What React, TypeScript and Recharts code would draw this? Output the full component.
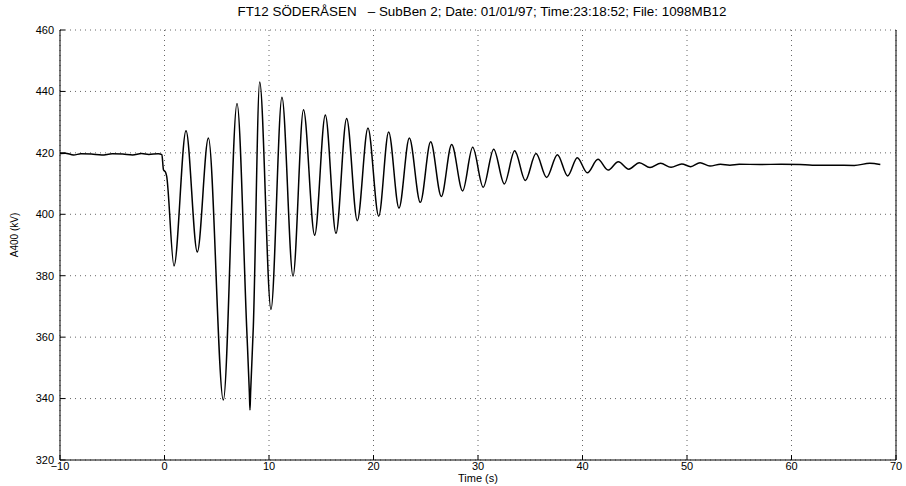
import { LineChart, Line, XAxis, YAxis, CartesianGrid } from 'recharts'

// Recorded 400 kV bus voltage, time in seconds relative to the disturbance
const TIME_S = [
  -10, -9.5, -8.7, -8, -7, -6, -5, -4, -3.05, -2.2, -1.5, -0.6, -0.25,
  -0.1, 0.1, 0.2,
  0.91, 2.06, 3.14, 4.2, 5.63, 6.94, 7.86, 8.12, 8.18, 8.24, 8.5, 9.11,
  10.19, 11.24, 12.3, 13.3, 14.37, 15.39, 16.41, 17.43, 18.45, 19.47,
  20.5, 21.45, 22.44, 23.43, 24.48, 25.47, 26.49, 27.48, 28.53, 29.49,
  30.5, 31.5, 32.52, 33.51, 34.53, 35.55, 36.57, 37.6, 38.58, 39.5,
  40.46, 41.48, 42.44, 43.43, 44.43, 45.44, 46.46, 47.48, 48.47, 49.5,
  50.35, 51.25, 52.2, 53.2, 54.1, 55, 57, 59, 60.8, 62, 64, 66, 67.5, 68.5,
]

const A400_KV = [
  419.8, 419.9, 419.3, 419.7, 419.6, 419.3, 419.7, 419.6, 419.3, 419.8, 419.5, 419.7, 419.4,
  414.5, 413.7, 412.5,
  383.2, 427.2, 387.7, 424.8, 339.5, 436.1, 363.4, 342, 336.3, 342, 363.4, 443.1,
  369, 438.1, 379.9, 434, 393.2, 432.3, 393.8, 431.2, 397.9, 428.1,
  399.4, 426.8, 402, 424.8, 403.9, 423.6, 405.8, 422.7, 407.6, 421.8,
  408.8, 421.2, 409.9, 420.7, 411, 419.8, 412, 419.4, 412.5, 418.4,
  413.5, 417.9, 414.4, 417.1, 414.7, 416.8, 415.2, 416.6, 415.3, 416.4,
  415.5, 416.8, 415.7, 416.3, 416.0, 416.3, 416.2, 416.3, 416.2, 416.0, 416.0, 415.9, 416.6, 416.2,
]

const X_TICKS = [-10, 0, 10, 20, 30, 40, 50, 60, 70]
const Y_TICKS = [320, 340, 360, 380, 400, 420, 440, 460]

const TITLE = 'FT12 SÖDERÅSEN   – SubBen 2; Date: 01/01/97; Time:23:18:52; File: 1098MB12'

const data = TIME_S.map((t, i) => ({ t, kv: A400_KV[i] }))

const FONT = '"Liberation Sans", Arial, Helvetica, sans-serif'
const AXIS_TICK = { fontSize: 11, fill: '#000', fontFamily: FONT }
const NO_LABEL = () => ''
const minusFormatter = (v: number) => String(v).replace('-', '\u2212')

export default function App() {
  return (
    <div style={{ position: 'absolute', left: 0, top: 0, width: 906, height: 486, background: '#fff' }}>
      <LineChart width={906} height={486} data={data} margin={{ top: 30, right: 0, bottom: 0, left: 0 }}>
        <CartesianGrid stroke="#666" strokeDasharray="1 4" />
        <XAxis
          dataKey="t"
          type="number"
          domain={[-10, 70]}
          ticks={X_TICKS}
          height={26}
          tick={AXIS_TICK}
          tickFormatter={minusFormatter}
          tickSize={-5}
          tickMargin={7}
          stroke="#000"
          interval={0}
        />
        <XAxis
          xAxisId="top"
          orientation="top"
          dataKey="t"
          type="number"
          domain={[-10, 70]}
          ticks={X_TICKS}
          height={0}
          tickFormatter={NO_LABEL}
          tickSize={-5}
          stroke="#000"
        />
        <YAxis
          type="number"
          domain={[320, 460]}
          ticks={Y_TICKS}
          width={60}
          tick={AXIS_TICK}
          tickSize={-5}
          tickMargin={11}
          stroke="#000"
          interval={0}
        />
        <YAxis
          yAxisId="right"
          orientation="right"
          type="number"
          domain={[320, 460]}
          ticks={Y_TICKS}
          width={10}
          tickFormatter={NO_LABEL}
          tickSize={-5}
          stroke="#000"
        />
        <Line
          type="monotone"
          dataKey="kv"
          stroke="#000"
          strokeWidth={1.5}
          dot={false}
          isAnimationActive={false}
        />
        <text
          x={482}
          y={16}
          textAnchor="middle"
          fontSize={13}
          fontFamily={FONT}
          fill="#000"
          textLength={489}
          lengthAdjust="spacingAndGlyphs"
          style={{ whiteSpace: 'pre' }}
        >
          {TITLE}
        </text>
        <text
          x={18}
          y={235}
          textAnchor="middle"
          fontSize={10}
          fontFamily={FONT}
          fill="#000"
          transform="rotate(-90 18 235)"
        >
          A400 (kV)
        </text>
        <text x={478} y={482} textAnchor="middle" fontSize={11} fontFamily={FONT} fill="#000">
          Time (s)
        </text>
      </LineChart>
    </div>
  )
}
